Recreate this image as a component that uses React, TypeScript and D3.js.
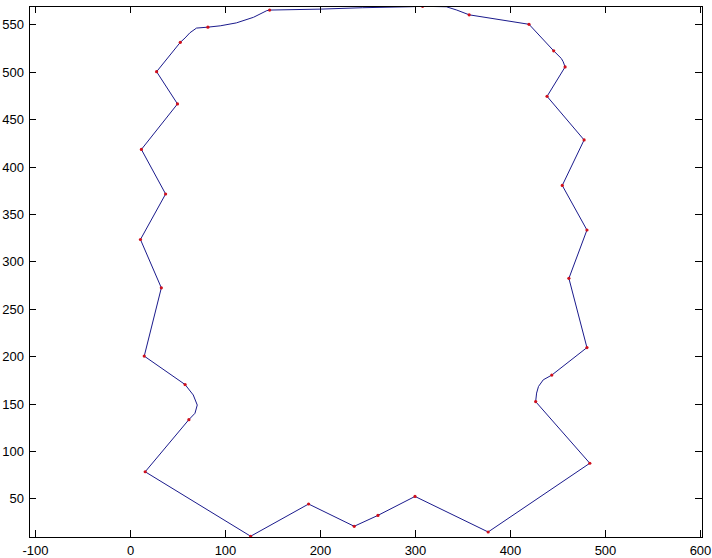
import React from 'react';
import * as d3 from 'd3';

// outline of the closed curve, in data units
const outlineX = [
  127, 188, 236, 261, 300, 377, 484, 427, 428, 430, 435, 444, 481, 462, 481, 455, 478, 439, 458, 456,
  454, 446, 420, 357, 344, 333, 308, 295, 245, 200, 147, 144, 130, 112, 95, 82, 70, 63, 58, 53, 28, 50,
  12, 37.5, 11, 33, 15, 58, 66.6, 70.8, 68.4, 62, 16, 127,
];
const outlineY = [
  10, 44, 20.5, 32, 52, 14.5, 87, 152, 161, 168, 175, 180, 209, 282, 333, 380, 428, 474, 505, 510.5,
  514, 522, 550, 560, 565, 568.5, 569, 568.5, 567.5, 566, 565, 564.4, 557.4, 551.5, 548.4, 547, 546,
  541, 535.6, 531, 500, 466, 418, 371, 323, 272, 200, 170, 159, 148.4, 139.7, 133, 78, 10,
];

// red sample points
const markX = [
  127, 188, 236, 261, 300, 377, 484, 427, 444, 481, 462, 481, 455, 478, 439, 458, 446, 420, 357, 308,
  147, 82, 53, 28, 50, 12, 37.5, 11, 33, 15, 58, 62, 16,
];
const markY = [
  10, 44, 20.5, 32, 52, 14.5, 87, 152, 180, 209, 282, 333, 380, 428, 474, 505, 522, 550, 560, 569,
  565, 547, 531, 500, 466, 418, 371, 323, 272, 200, 170, 133, 78,
];

const xTicks = [-100, 0, 100, 200, 300, 400, 500, 600];
const yTicks = [50, 100, 150, 200, 250, 300, 350, 400, 450, 500, 550];

const W = 712;
const H = 558;
const box = { left: 29, right: 702, top: 6, bottom: 537 };
const tickLen = 7;
const font = '"Liberation Sans", Arial, sans-serif';

export default function App() {
  const x = d3.scaleLinear().domain([-106.3, 602.1]).range([box.left, box.right]);
  const y = d3.scaleLinear().domain([9.2, 569.3]).range([box.bottom, box.top]);

  const pts: [number, number][] = outlineX.map((v, i) => [v, outlineY[i]]);
  const line = d3
    .line<[number, number]>()
    .x((d) => x(d[0]))
    .y((d) => y(d[1]))
    .curve(d3.curveLinear);

  return (
    <svg width={W} height={H} style={{ position: 'absolute', left: 0, top: 0, background: '#fff' }}>
      <rect x={0} y={0} width={W} height={H} fill="#fff" />
      <defs>
        <clipPath id="plot">
          <rect x={box.left} y={box.top} width={box.right - box.left} height={box.bottom - box.top} />
        </clipPath>
      </defs>
      <g clipPath="url(#plot)">
        <path d={line(pts) || ''} fill="none" stroke="#1a1a8c" strokeWidth={1} />
        {markX.map((v, i) => (
          <circle key={i} cx={x(v)} cy={y(markY[i])} r={1.6} fill="#d0101c" />
        ))}
      </g>
      <rect
        x={box.left + 0.5}
        y={box.top + 0.5}
        width={box.right - box.left}
        height={box.bottom - box.top}
        fill="none"
        stroke="#000"
        strokeWidth={1}
      />
      {xTicks.map((t) => {
        const px = Math.round(x(t)) + 0.5;
        return (
          <g key={`x${t}`}>
            <line x1={px} x2={px} y1={box.bottom} y2={box.bottom - tickLen} stroke="#000" />
            <line x1={px} x2={px} y1={box.top} y2={box.top + tickLen} stroke="#000" />
            <text x={px} y={555} fontSize={13} fontFamily={font} textAnchor="middle" fill="#000">
              {t}
            </text>
          </g>
        );
      })}
      {yTicks.map((t) => {
        const py = Math.round(y(t)) + 0.5;
        return (
          <g key={`y${t}`}>
            <line x1={box.left} x2={box.left + tickLen} y1={py} y2={py} stroke="#000" />
            <line x1={box.right} x2={box.right - tickLen} y1={py} y2={py} stroke="#000" />
            <text x={24} y={py + 4.5} fontSize={13} fontFamily={font} textAnchor="end" fill="#000">
              {t}
            </text>
          </g>
        );
      })}
    </svg>
  );
}
